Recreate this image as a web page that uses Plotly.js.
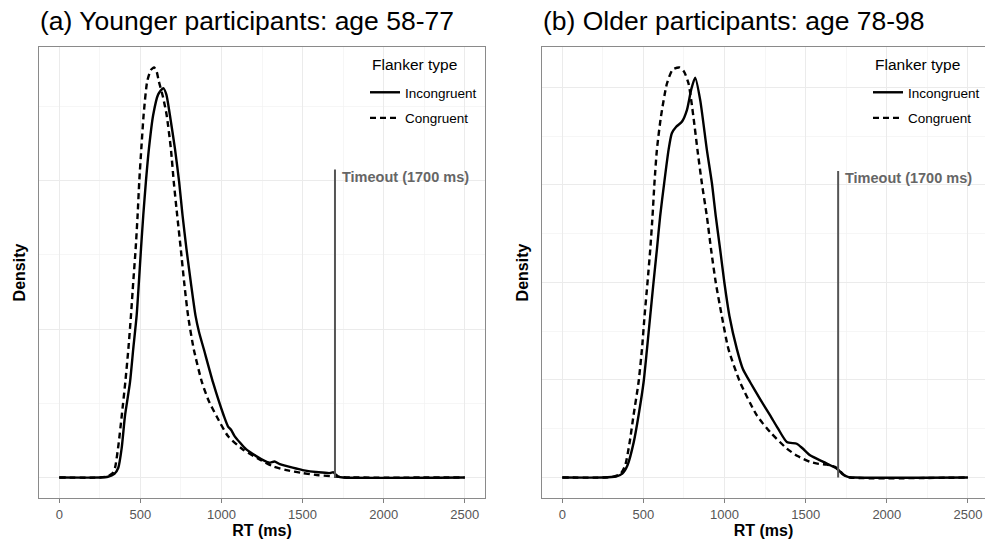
<!DOCTYPE html>
<html>
<head>
<meta charset="utf-8">
<script src="https://cdn.plot.ly/plotly-3.0.1.min.js"></script>
<style>html,body{margin:0;padding:0;background:#fff;}</style>
</head>
<body>
<div id="chart" style="width:985px;height:541px;"></div>
<script>
// Density values are in units of 1e-3 per ms
const panelTitles = ["(a) Younger participants: age 58-77", "(b) Older participants: age 78-98"];
const seriesNames = ["Incongruent", "Congruent"];
const legendTitle = "Flanker type";
const xTicks = [0, 500, 1000, 1500, 2000, 2500];
const timeoutMs = 1700;
const timeoutLabel = "Timeout (1700 ms)";

// (a) younger
const youngIncX = [0, 250, 300, 340, 364, 385, 405, 436, 456, 477, 491, 504, 518, 534, 553, 579, 610, 641, 660, 682, 713, 739, 760, 784, 811, 840, 862, 891, 948, 1015, 1040, 1060, 1081, 1153, 1214, 1260, 1296, 1327, 1360, 1439, 1500, 1600, 1670, 1690, 1705, 1720, 1750, 2500];
const youngIncY = [0, 0, 0.005, 0.025, 0.066, 0.2, 0.414, 0.640, 0.865, 1.090, 1.315, 1.541, 1.766, 1.991, 2.216, 2.441, 2.58, 2.622, 2.58, 2.441, 2.216, 1.991, 1.766, 1.541, 1.315, 1.090, 0.978, 0.865, 0.640, 0.414, 0.345, 0.32, 0.279, 0.189, 0.144, 0.115, 0.099, 0.108, 0.09, 0.066, 0.05, 0.035, 0.03, 0.035, 0.02, 0.006, 0, 0];
const youngConX = [0, 250, 300, 330, 344, 365, 385, 407, 426, 442, 456, 471, 483, 493, 506, 520, 542, 565, 585, 600, 614, 640, 662, 688, 706, 727, 749, 770, 794, 829, 880, 920, 969, 1040, 1132, 1235, 1316, 1400, 1500, 1600, 1700, 1750, 1800, 2500];
const youngConY = [0, 0, 0.008, 0.03, 0.066, 0.22, 0.414, 0.640, 0.865, 1.090, 1.315, 1.541, 1.766, 1.991, 2.216, 2.441, 2.667, 2.745, 2.761, 2.735, 2.667, 2.56, 2.441, 2.216, 1.991, 1.766, 1.541, 1.315, 1.090, 0.865, 0.640, 0.52, 0.414, 0.279, 0.189, 0.122, 0.076, 0.05, 0.03, 0.015, 0.007, 0.002, 0, 0];

// (b) older
const oldIncX = [0, 250, 330, 370, 402, 440, 470, 501, 522, 542, 562, 583, 603, 628, 655, 675, 702, 737, 768, 795, 819, 850, 891, 922, 946, 973, 999, 1030, 1076, 1113, 1158, 1220, 1281, 1330, 1384, 1445, 1480, 1527, 1609, 1671, 1700, 1730, 1760, 1800, 2500];
const oldIncY = [0, 0, 0.005, 0.02, 0.063, 0.18, 0.318, 0.488, 0.658, 0.828, 0.998, 1.168, 1.338, 1.509, 1.679, 1.764, 1.797, 1.823, 1.883, 1.99, 2.049, 1.934, 1.679, 1.509, 1.338, 1.168, 0.998, 0.828, 0.658, 0.556, 0.488, 0.40, 0.318, 0.25, 0.182, 0.173, 0.15, 0.114, 0.080, 0.055, 0.04, 0.015, 0.003, 0, 0];
const oldConX = [0, 250, 320, 360, 388, 415, 439, 470, 491, 507, 525, 542, 556, 568, 583, 608, 645, 680, 722, 750, 778, 808, 833, 860, 891, 917, 946, 983, 1024, 1096, 1199, 1281, 1384, 1450, 1527, 1580, 1630, 1680, 1710, 1740, 1770, 2500];
const oldConY = [0, 0, 0.005, 0.02, 0.063, 0.18, 0.318, 0.488, 0.658, 0.828, 0.998, 1.168, 1.338, 1.509, 1.679, 1.849, 2.019, 2.09, 2.101, 2.08, 2.019, 1.849, 1.679, 1.509, 1.338, 1.168, 0.998, 0.828, 0.658, 0.488, 0.318, 0.233, 0.148, 0.11, 0.080, 0.07, 0.066, 0.055, 0.035, 0.01, 0, 0];

// heights of the timeout segments
const timeoutTop = [2.074, 1.571];

const FONT = "Liberation Sans, Arial, Helvetica, sans-serif";
const dashPat = "6px,4px";

function mk(x, y, name, dash, xa, ya, leg) {
  return {
    x: x, y: y, name: name, type: "scatter", mode: "lines",
    xaxis: xa, yaxis: ya, legend: leg, legendgroup: leg + name,
    line: {color: "#000", width: 2.4, dash: dash, shape: "spline", smoothing: 0.6},
    hoverinfo: "skip"
  };
}

const traces = [
  mk(youngIncX, youngIncY, seriesNames[0], "solid", "x", "y", "legend"),
  mk(youngConX, youngConY, seriesNames[1], dashPat, "x", "y", "legend"),
  mk(oldIncX, oldIncY, seriesNames[0], "solid", "x2", "y2", "legend2"),
  mk(oldConX, oldConY, seriesNames[1], dashPat, "x2", "y2", "legend2")
];

const maxA = Math.max(...youngIncY, ...youngConY);
const maxB = Math.max(...oldIncY, ...oldConY);

const W = 985, H = 541;
const yDom = [(H - 498) / H, (H - 47) / H];

function xAxis(domain, range, anchor) {
  return {
    domain: domain, range: range, anchor: anchor,
    tickvals: xTicks, ticktext: xTicks.map(String),
    ticks: "outside", ticklen: 4, tickwidth: 1, tickcolor: "#808080",
    tickfont: {family: FONT, size: 13, color: "#555"},
    showline: true, mirror: true, linecolor: "#8a8a8a", linewidth: 1.3,
    showgrid: true, gridcolor: "#ebebeb", gridwidth: 1,
    minor: {dtick: 250, tick0: 0, showgrid: true, gridcolor: "#f2f2f2", gridwidth: 0.7, ticks: ""},
    zeroline: false,
    title: {text: "RT (ms)", font: {family: FONT, size: 16, color: "#000", weight: "bold"}, standoff: 3}
  };
}
function yAxis(domain, maxV, major, anchor, mirror) {
  const pad = 0.05 * maxV;
  return {
    domain: domain, range: [-pad, maxV + pad], anchor: anchor,
    tick0: 0, dtick: major, showticklabels: false, ticks: "",
    showline: true, mirror: mirror, linecolor: "#8a8a8a", linewidth: 1.3,
    showgrid: true, gridcolor: "#ebebeb", gridwidth: 1,
    minor: {dtick: major / 2, tick0: 0, showgrid: true, gridcolor: "#f2f2f2", gridwidth: 0.7, ticks: ""},
    zeroline: false,
    title: {text: "Density", font: {family: FONT, size: 16, color: "#000", weight: "bold"}, standoff: 8}
  };
}

function legendCfg(xpx) {
  return {
    x: xpx / W, xanchor: "left", y: (H - 77) / H, yanchor: "top",
    bgcolor: "rgba(0,0,0,0)", borderwidth: 0,
    font: {family: FONT, size: 13.5, color: "#000"},
    traceorder: "grouped", tracegroupgap: 5
  };
}
function legendTitleAnn(xpx) {
  return {text: legendTitle, xref: "paper", yref: "paper", x: xpx / W, y: (H - 65) / H,
    xanchor: "left", yanchor: "middle", showarrow: false,
    font: {family: FONT, size: 15.5, color: "#000"}};
}
function timeoutAnn(xr, yr, top) {
  return {text: timeoutLabel, xref: xr, yref: yr, x: timeoutMs, y: top, xshift: 5, yshift: -7,
    xanchor: "left", yanchor: "middle", showarrow: false,
    font: {family: FONT, size: 14.5, color: "#666", weight: "bold"}};
}

const layout = {
  width: W, height: H,
  margin: {l: 0, r: 0, t: 0, b: 0},
  paper_bgcolor: "#fff", plot_bgcolor: "#fff",
  font: {family: FONT},
  showlegend: true,
  xaxis: xAxis([39 / W, 485 / W], [-125, 2625], "y"),
  yaxis: yAxis(yDom, maxA, 1, "x", true),
  xaxis2: xAxis([542 / W, 1], [-125, 2605], "y2"),
  yaxis2: yAxis(yDom, maxB, 0.5, "x2", false),
  legend: legendCfg(365),
  legend2: legendCfg(868),
  shapes: [
    {type: "line", xref: "x", yref: "y", x0: timeoutMs, x1: timeoutMs, y0: 0, y1: timeoutTop[0], line: {color: "#555", width: 2}},
    {type: "line", xref: "x2", yref: "y2", x0: timeoutMs, x1: timeoutMs, y0: 0, y1: timeoutTop[1], line: {color: "#555", width: 2}}
  ],
  annotations: [
    {text: panelTitles[0], xref: "paper", yref: "paper", x: 38 / W, y: (H - 21) / H, xanchor: "left", yanchor: "middle", showarrow: false, font: {family: FONT, size: 26.5, color: "#000"}},
    {text: panelTitles[1], xref: "paper", yref: "paper", x: 541 / W, y: (H - 21) / H, xanchor: "left", yanchor: "middle", showarrow: false, font: {family: FONT, size: 26.5, color: "#000"}},
    timeoutAnn("x", "y", timeoutTop[0]),
    timeoutAnn("x2", "y2", timeoutTop[1]),
    legendTitleAnn(370),
    legendTitleAnn(873)
  ]
};

Plotly.newPlot("chart", traces, layout, {displayModeBar: false, staticPlot: true});
</script>
</body>
</html>
